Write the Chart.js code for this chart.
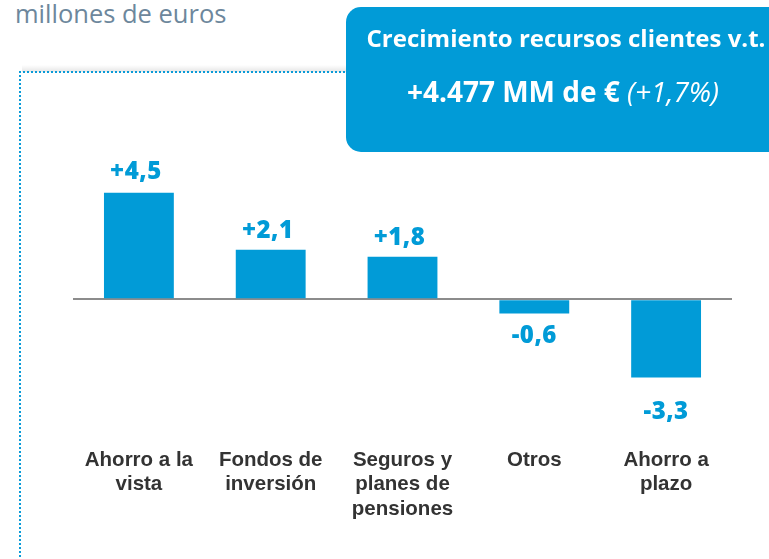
<!DOCTYPE html>
<html><head><meta charset="utf-8">
<script src="https://cdn.jsdelivr.net/npm/chart.js@4/dist/chart.umd.min.js"></script>
<style>
html,body{margin:0;padding:0;background:#fff;width:769px;height:559px;overflow:hidden;position:relative;font-family:'Open Sans',sans-serif}
#c{position:absolute;left:0;top:0}
#sub{position:absolute;left:15px;top:1px;font-size:25.5px;line-height:24px;color:#6d879c;white-space:nowrap}
#shadowTop{position:absolute;left:22px;top:65px;width:330px;height:7px;background:linear-gradient(to bottom,rgba(0,0,0,0),rgba(0,0,0,0.10));}
#frameTop{position:absolute;left:19px;top:71px;width:760px;height:2px;background:repeating-linear-gradient(to right,#0a9bd8 0 2px,transparent 2px 4px)}
#frameLeft{position:absolute;left:19px;top:71px;width:2px;height:500px;background:repeating-linear-gradient(to bottom,#0a9bd8 0 2px,transparent 2px 4px)}
#box{position:absolute;left:346px;top:7px;width:440px;height:145px;border-radius:15px;background:#019bd7;color:#fff;text-align:center}
#l1{position:absolute;left:0;width:440px;top:19px;font-size:24px;line-height:24px;font-weight:bold;white-space:nowrap}
#l2{position:absolute;left:0;width:434px;top:72px;font-size:28px;line-height:24px;font-weight:bold;white-space:nowrap}
#l2 i{font-weight:normal}
</style></head>
<body>
<div id="sub">millones de euros</div>
<div id="shadowTop"></div>
<div id="frameTop"></div>
<div id="frameLeft"></div>
<canvas id="c" width="769" height="559"></canvas>
<div id="box"><div id="l1">Crecimiento recursos clientes v.t.</div><div id="l2">+4.477 MM de € <i>(+1,7%)</i></div></div>
<script>
const categories = [['Ahorro a la','vista'],['Fondos de','inversión'],['Seguros y','planes de','pensiones'],['Otros'],['Ahorro a','plazo']];
const values = [4.5, 2.1, 1.8, -0.6, -3.3];
const yTicks = {min:-4, max:5, step:1};

const BLUE = '#019bd7';

const valueLabels = {
  id:'valueLabels',
  afterDatasetsDraw(chart, args, opts){
    const ctx = chart.ctx;
    const meta = chart.getDatasetMeta(0);
    ctx.save();
    ctx.font = '800 24px "Open Sans"';
    try { ctx.letterSpacing = '0.5px'; } catch(e) {}
    ctx.fillStyle = BLUE;
    ctx.textAlign = 'center';
    ctx.textBaseline = 'alphabetic';
    meta.data.forEach((bar, i) => {
      const v = chart.data.datasets[0].data[i];
      const txt = (v > 0 ? '+' : '') + v.toFixed(1).replace('.', ',');
      const off = opts.offsets[i];
      const pos = bar.getProps(['x','y'], true);
      if (v >= 0) ctx.fillText(txt, pos.x - 3, pos.y - off);
      else ctx.fillText(txt, pos.x, pos.y + off);
    });
    ctx.restore();
  }
};

new Chart(document.getElementById('c'), {
  type:'bar',
  data:{labels:categories, datasets:[{data:values, backgroundColor:BLUE, borderWidth:0, categoryPercentage:1, barPercentage:0.53}]},
  options:{
    responsive:false, animation:false,
    layout:{padding:{left:73,right:37,top:181,bottom:0}},
    plugins:{legend:{display:false}, tooltip:{enabled:false}, valueLabels:{offsets:[14,12,12,29,42]}},
    scales:{
      x:{grid:{display:false,drawTicks:false}, border:{display:false},
         ticks:{color:'#333333', font:{family:'"Liberation Sans"', weight:'bold', size:20.5, lineHeight:1.19}, padding:54, maxRotation:0, autoSkip:false},
         afterFit(s){ s.height = 165; }},
      y:{min:yTicks.min, max:yTicks.max,
         grid:{drawTicks:false, lineWidth:2, color:c => (c.tick && c.tick.value === 0) ? '#8c8c8c' : 'rgba(0,0,0,0)'},
         border:{display:false},
         ticks:{display:false, stepSize:yTicks.step},
         afterFit(s){ s.width = 0; }}
    }
  },
  plugins:[valueLabels]
});
</script>
</body></html>
